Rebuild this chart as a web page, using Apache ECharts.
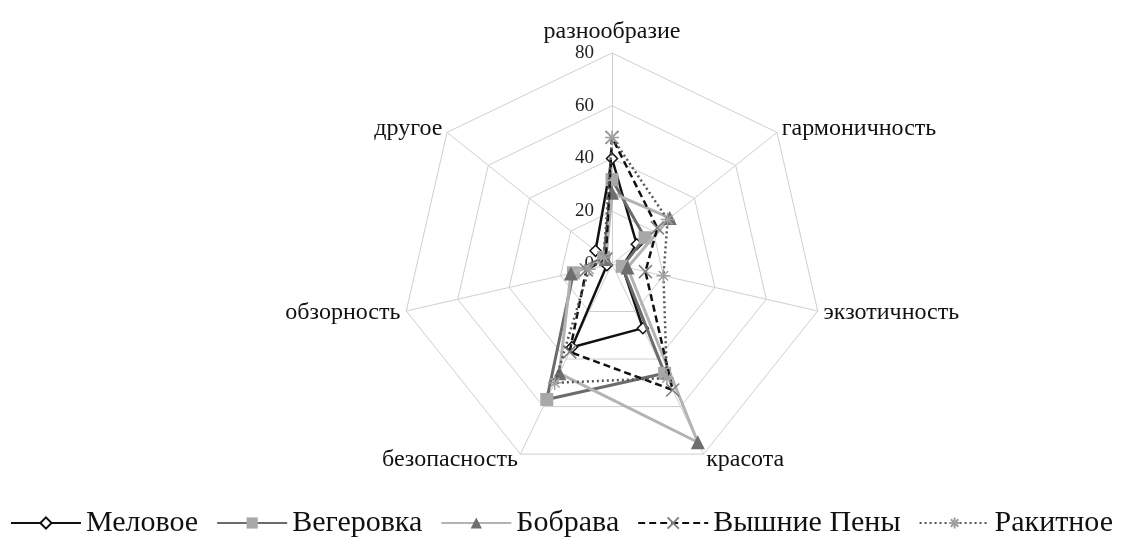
<!DOCTYPE html>
<html>
<head>
<meta charset="utf-8">
<script src="https://cdn.jsdelivr.net/npm/echarts@6/dist/echarts.min.js"></script>
<style>
html,body{margin:0;padding:0;background:#fff;}
#chart{width:1123px;height:547px;}
</style>
</head>
<body>
<div id="chart"></div>
<script>
// Indicators in ECharts (counter-clockwise) order starting from the top
var categories = ['разнообразие', 'другое', 'обзорность', 'безопасность', 'красота', 'экзотичность', 'гармоничность'];
var axisMax = 80;
var tickLabels = ['0', '20', '40', '60', '80'];

var seriesNames = ['Меловое', 'Вегеровка', 'Бобрава', 'Вышние Пены', 'Ракитное'];
var melovoe    = [40, 8, 2, 35, 27, 4, 12];
var vegerovka  = [32, 4, 15, 57, 46, 4, 16];
var bobrava    = [27, 3, 16, 46, 75, 6, 28];
var vyshniePeny = [48, 3, 10, 37, 53, 13, 22];
var rakitnoe   = [48, 4, 9, 50, 48, 20, 27];
var values = [melovoe, vegerovka, bobrava, vyshniePeny, rakitnoe];

var SERIF = '"Liberation Serif", "DejaVu Serif", serif';
var X_PATH = 'path://M0,0L10,10M10,0L0,10';
var STAR_PATH = 'path://M5,0L5,10M0,5L10,5M1.6,1.6L8.4,8.4M8.4,1.6L1.6,8.4';

var styles = [
  {line: {color: '#111', width: 2.5, type: 'solid'}, symbol: 'diamond', size: 11,
   item: {color: '#ffffff', borderColor: '#111', borderWidth: 1.5}},
  {line: {color: '#6b6b6b', width: 3, type: 'solid'}, symbol: 'rect', size: 13,
   item: {color: '#a8a8a8', borderColor: '#a8a8a8', borderWidth: 0}},
  {line: {color: '#b3b3b3', width: 3, type: 'solid'}, symbol: 'triangle', size: 14,
   item: {color: '#6e6e6e', borderColor: '#6e6e6e', borderWidth: 0}},
  {line: {color: '#111', width: 2.5, type: [7, 4]}, symbol: X_PATH, size: 13,
   item: {color: 'rgba(0,0,0,0)', borderColor: '#808080', borderWidth: 1.6}},
  {line: {color: '#555', width: 2.5, type: [2, 3]}, symbol: STAR_PATH, size: 14,
   item: {color: 'rgba(0,0,0,0)', borderColor: '#a0a0a0', borderWidth: 1.5}}
];

var series = [];
// legend carriers (empty line series so the legend shows line + marker)
seriesNames.forEach(function (n, i) {
  var s = styles[i];
  series.push({
    type: 'line', name: n, data: [], xAxisIndex: 0, yAxisIndex: 0,
    symbol: s.symbol, symbolSize: s.size, symbolKeepAspect: true,
    lineStyle: s.line, itemStyle: s.item
  });
});
seriesNames.forEach(function (n, i) {
  var s = styles[i];
  series.push({
    type: 'radar', name: n, radarIndex: 0, z: 2 + i,
    symbol: s.symbol, symbolSize: s.size, symbolKeepAspect: true,
    lineStyle: s.line, itemStyle: s.item,
    data: [{name: n, value: values[i]}]
  });
});

var chart = echarts.init(document.getElementById('chart'), null, {renderer: 'canvas'});
chart.setOption({
  backgroundColor: '#ffffff',
  animation: false,
  grid: {left: 0, top: 0, width: 1, height: 1, show: false},
  xAxis: {type: 'category', show: false, data: []},
  yAxis: {type: 'value', show: false},
  legend: {
    data: seriesNames,
    bottom: 4,
    left: 'center',
    itemWidth: 70,
    itemHeight: 14,
    itemGap: 18,
    textStyle: {fontFamily: SERIF, fontSize: 30, color: '#111'}
  },
  radar: {
    center: [612, 264],
    radius: 211,
    startAngle: 90,
    shape: 'polygon',
    splitNumber: 4,
    axisName: {fontFamily: SERIF, fontSize: 24, color: '#111'},
    nameGap: 6,
    indicator: categories.map(function (c, i) {
      var ind = {name: c, min: 0, max: axisMax};
      if (i === 0) {
        ind.axisLabel = {show: true};
      }
      return ind;
    }),
    axisLabel: {
      show: false, showMinLabel: true, showMaxLabel: true,
      fontFamily: SERIF, fontSize: 19, color: '#222', margin: 18,
      formatter: function (v) { var i = Math.round(v / 20); return tickLabels[i] !== undefined ? tickLabels[i] : ''; }
    },
    axisLine: {lineStyle: {color: '#cfcfcf', width: 1}},
    splitLine: {lineStyle: {color: '#cfcfcf', width: 1}},
    splitArea: {show: false}
  },
  series: series
});
</script>
</body>
</html>
